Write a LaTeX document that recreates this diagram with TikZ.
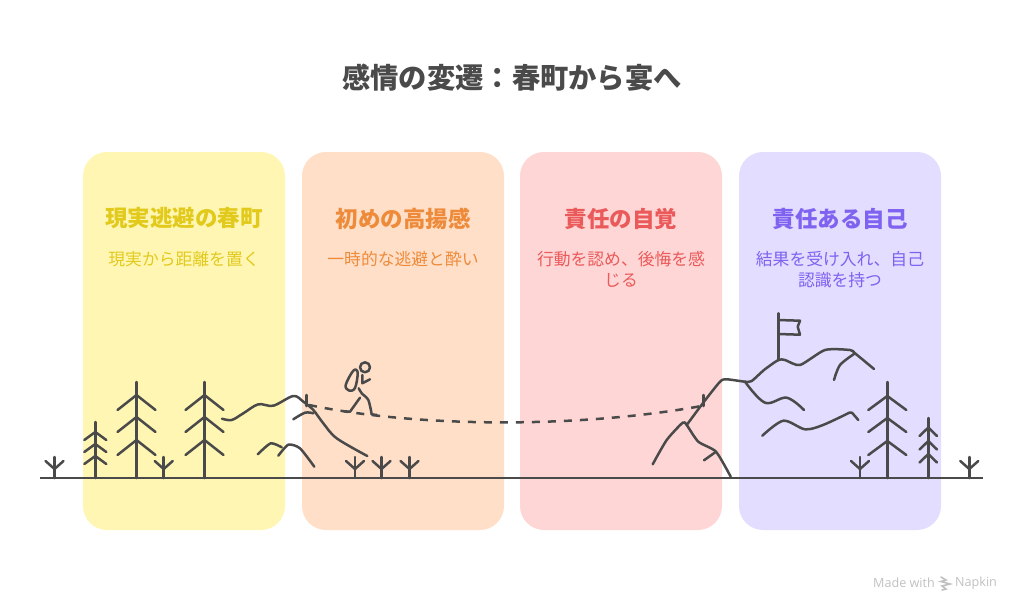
\documentclass[tikz,border=0pt]{standalone}
\usepackage{fontspec}
\setmainfont{Noto Sans CJK JP}
\newfontfamily\latinf{Open Sans}
\definecolor{inkc}{HTML}{4A4A4A}
\definecolor{cardY}{HTML}{FFF6B3}
\definecolor{cardO}{HTML}{FFDFC8}
\definecolor{cardR}{HTML}{FFD6D6}
\definecolor{cardP}{HTML}{E3DDFF}
\definecolor{txtY}{HTML}{E2CA1C}
\definecolor{txtO}{HTML}{EE8B3A}
\definecolor{txtR}{HTML}{EA5A5A}
\definecolor{txtP}{HTML}{7F62F0}
\definecolor{markc}{HTML}{C0C0C0}
\tikzset{
  x=1pt,y=-1pt,
  card/.style={rounded corners=24pt,minimum width=202pt,minimum height=378pt,inner sep=0pt,draw=none},
  cardtitle/.style={font=\fontsize{22.5}{26}\selectfont\bfseries,inner sep=0pt,anchor=center},
  cardsub/.style={font=\fontsize{16.8}{21}\selectfont,inner sep=0pt,align=center,anchor=north},
  ink/.style={draw=inkc,line width=2.5pt,line cap=round,line join=round},
  inkdash/.style={draw=inkc,line width=2.5pt,dash pattern=on 8pt off 8pt},
  pics/pine/.style n args={7}{code={
    \draw[ink] (0,#1) -- (0,478);
    \draw[ink] (-#5,#2+#6) -- (0,#2) -- (#5,#2+#6);
    \draw[ink] (-#5,#3+#6) -- (0,#3) -- (#5,#3+#6);
    \draw[ink] (-#5,#4+#6) -- (0,#4) -- (#5,#4+#6);
  }},
  pics/sprout/.style={code={
    \draw[ink] (0,457) -- (0,478);
    \draw[ink] (-9,461) -- (0,469) -- (9,461);
  }},
}
\begin{document}
\begin{tikzpicture}
\useasboundingbox (0,0) rectangle (1024,615);
% cards
\node[card,fill=cardY] (c1) at (184,341) {};
\node[card,fill=cardO] (c2) at (403,341) {};
\node[card,fill=cardR] (c3) at (621,341) {};
\node[card,fill=cardP] (c4) at (840,341) {};
% title
\node[font=\fontsize{28.3}{32}\selectfont\bfseries,text=inkc,inner sep=0pt] (title) at (512,78) {感情の変遷：春町から宴へ};
% card texts
\node[cardtitle,text=txtY] (t1) at (184,218.5) {現実逃避の春町};
\node[cardtitle,text=txtO] (t2) at (403,218.5) {初めの高揚感};
\node[cardtitle,text=txtR] (t3) at (621,218.5) {責任の自覚};
\node[cardtitle,text=txtP] (t4) at (840,218.5) {責任ある自己};
\node[cardsub,text=txtY] (s1) at (184,251) {現実から距離を置く};
\node[cardsub,text=txtO] (s2) at (403,251) {一時的な逃避と酔い};
\node[cardsub,text=txtR] (s3) at (621,251) {行動を認め、後悔を感\\じる};
\node[cardsub,text=txtP] (s4) at (840,251) {結果を受け入れ、自己\\認識を持つ};
% ground
\draw[draw=inkc,line width=2.8pt] (40,478) -- (983,478);
% trees
\pic at (95.3,0) {pine={422}{432}{444}{456}{11}{8}{0}};
\pic at (136.5,0) {pine={382}{395}{417}{440}{19}{15}{0}};
\pic at (204.5,0) {pine={382}{395}{417}{440}{19}{15}{0}};
\pic at (887.3,0) {pine={382}{396}{418}{441}{19}{14}{0}};
\pic at (928.3,0) {pine={418}{427.5}{441}{454}{8.7}{8.5}{0}};
% sprouts
\pic at (54.5,0) {sprout};
\pic at (163.7,0) {sprout};
\pic at (355,0) {sprout};
\pic at (381.5,0) {sprout};
\pic at (409.5,0) {sprout};
\pic at (860,0) {sprout};
\pic at (969.3,0) {sprout};
% left hills
\draw[ink] plot[smooth,tension=0.55] coordinates {(222,418.7) (231.7,420) (243.3,413.3) (258.3,404.3) (273.3,405.7) (293.3,396) (303.3,401.7) (313.3,410) (323.3,423.3) (336.7,438.3) (367.3,456)};
\draw[ink] plot[smooth,tension=0.55] coordinates {(293.3,419.3) (305,412.7) (313.3,413.3)};
\draw[ink] plot[smooth,tension=0.4] coordinates {(257.7,454.3) (270.7,443.3) (281.7,447.3)};
\draw[ink] plot[smooth,tension=0.4] coordinates {(278.3,455.7) (288.3,444.7) (300,448.3) (314.3,466.7)};
\draw[ink] (306.7,395) -- (306.7,406);
% right hills
\draw[ink] plot[smooth,tension=0.4] coordinates {(686.7,425) (703,403) (720,381.7) (726.7,379.3) (745,381.7) (751.7,381) (764,370) (778.3,360) (785,360) (800,365) (825,350) (850,350) (855,353.3) (874,369)};
\draw[ink] plot[smooth,tension=0.5] coordinates {(855,353.3) (840,365) (834,380)};
\draw[ink] plot[smooth,tension=0.6] coordinates {(745,381.7) (765,402.7) (786.7,397.7) (804,410)};
\draw[ink] plot[smooth,tension=0.5] coordinates {(762.3,435.7) (783.3,420.7) (805,429.3) (823,425) (849.3,412.7)};
\draw[ink] (849.3,412.7) -- (852,412.7) -- (858.3,420);
\draw[ink] plot[smooth,tension=0.4] coordinates {(652.7,464.3) (666.7,440) (682.7,422.7) (686.7,425) (698.3,441.7) (716,451.7) (730.7,476.7)};
\draw[ink] (704,460.3) -- (716,451.7);
\draw[ink] (703.3,395) -- (703.3,406);
% flag
\draw[ink] (778.3,313.3) -- (778.3,360);
\draw[ink] (778.3,320) -- (800,320.7) -- (797.7,326.7) -- (800,334.7) -- (778.3,334);
% walker
\draw[ink] (365,367.3) circle[radius=5];
\draw[ink] plot[smooth cycle,tension=0.6] coordinates {(345.7,385) (353.3,370.7) (357.7,372.5) (355,388) (349,390.5)};
\draw[ink] (362.3,375) -- (362.3,383.3) -- (370,379.3);
\draw[ink] plot[smooth,tension=0.5] coordinates {(358.7,388.3) (361.7,393.3) (368.3,400) (371.7,414.3)};
\draw[ink] (371.7,414.3) -- (376.7,415);
\draw[ink] (360,397.7) -- (350,411.7) -- (344,411.3);
% dashed route
\coordinate (routeA) at (309,405);
\coordinate (routeB) at (701.5,406);
\draw[inkdash] (routeA) .. controls (420,428) and (580,428) .. (routeB);
% watermark
\node[font=\latinf\fontsize{12.6}{14}\selectfont,text=markc,inner sep=0pt,anchor=west] (madew) at (873,583) {Made with};
\node[font=\latinf\fontsize{12.6}{14}\selectfont,text=markc,inner sep=0pt,anchor=west] (napk) at (955,583) {Napkin};
\draw[markc,line width=1.6pt,line cap=round] (941,577) -- (946,580) -- (941,581.5) -- (950,584) -- (942,586) -- (946,589) -- (942,590);
\end{tikzpicture}
\end{document}
